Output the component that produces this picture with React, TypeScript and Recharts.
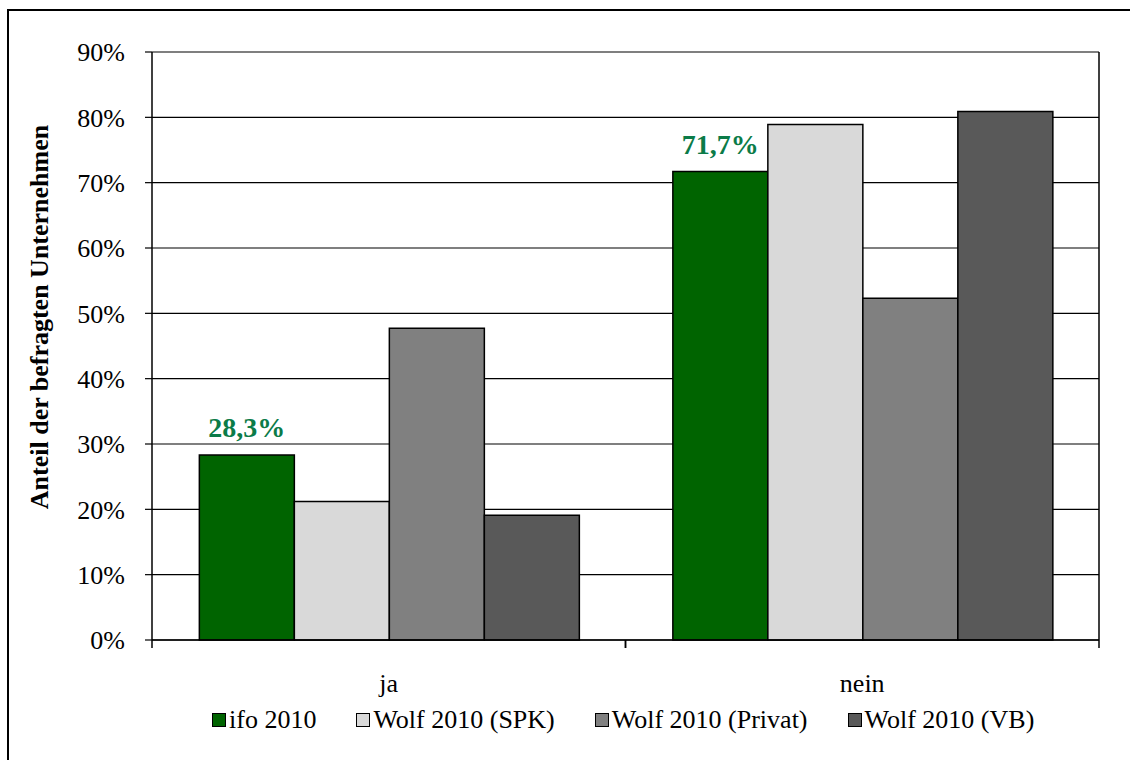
import React from 'react';
import { BarChart, Bar, XAxis, YAxis, CartesianGrid, Legend, LabelList } from 'recharts';

const CATEGORIES = ['ja', 'nein'];
const IFO = [28.3, 71.7];
const SPK = [21.2, 78.9];
const PRIVAT = [47.7, 52.3];
const VB = [19.1, 80.9];
const Y_TICKS = [0, 10, 20, 30, 40, 50, 60, 70, 80, 90];

const SERIES = [
  { key: 'ifo', name: 'ifo 2010', color: '#006400' },
  { key: 'spk', name: 'Wolf 2010 (SPK)', color: '#D9D9D9' },
  { key: 'privat', name: 'Wolf 2010 (Privat)', color: '#808080' },
  { key: 'vb', name: 'Wolf 2010 (VB)', color: '#595959' },
];

const data = CATEGORIES.map((c, i) => ({
  category: c,
  ifo: IFO[i],
  spk: SPK[i],
  privat: PRIVAT[i],
  vb: VB[i],
}));

const FONT = '"Liberation Serif", "Times New Roman", serif';
const LABEL_GREEN = '#0B7B48';

// category tick: label plus tick marks at the category boundaries
const CategoryTick = (props: any) => {
  const { x, y, payload } = props;
  const half = payload?.offset ?? 0;
  return (
    <g>
      {half > 0 && (
        <>
          <line x1={x - half} x2={x - half} y1={y} y2={y + 8} stroke="#000" strokeWidth={1.5} />
          <line x1={x + half} x2={x + half} y1={y} y2={y + 8} stroke="#000" strokeWidth={1.5} />
        </>
      )}
      <text x={x} y={y + 52} textAnchor="middle" fontFamily={FONT} fontSize={26} fill="#000">
        {payload.value}
      </text>
    </g>
  );
};

const YTitle = (props: any) => {
  const vb = props.viewBox || { x: 0, y: 0, width: 0, height: 0 };
  const cx = vb.x + 48;
  const cy = vb.y + vb.height / 2 - 29;
  return (
    <text
      x={cx}
      y={cy}
      transform={`rotate(-90, ${cx}, ${cy})`}
      textAnchor="middle"
      fontFamily={FONT}
      fontWeight="bold"
      fontSize={26}
      fill="#000"
    >
      Anteil der befragten Unternehmen
    </text>
  );
};

const LegendContent = () => (
  <div style={{ display: 'flex', alignItems: 'center', height: 28, fontFamily: FONT, fontSize: 26, color: '#000' }}>
    {SERIES.map((s, i) => (
      <div key={s.key} style={{ display: 'flex', alignItems: 'center', marginRight: i < SERIES.length - 1 ? 40 : 0 }}>
        <span
          style={{
            display: 'inline-block',
            width: 12,
            height: 12,
            background: s.color,
            border: '1.5px solid #000',
            marginRight: 3,
          }}
        />
        <span style={{ whiteSpace: 'nowrap', lineHeight: '28px' }}>{s.name}</span>
      </div>
    ))}
  </div>
);

const App: React.FC = () => {
  return (
    <div style={{ position: 'absolute', left: 0, top: 0, width: 1130, height: 760, overflow: 'hidden', background: '#fff' }}>
      <div
        style={{
          position: 'absolute',
          left: 7,
          top: 9,
          width: 1140,
          height: 780,
          border: '2px solid #000',
          boxSizing: 'border-box',
        }}
      />
      <div style={{ position: 'absolute', left: 0, top: 0 }}>
        <BarChart
          width={1130}
          height={760}
          data={data}
          margin={{ top: 52, right: 0, bottom: 60, left: 0 }}
          barCategoryGap="10%"
          barGap={0}
        >
          <CartesianGrid horizontal vertical={false} stroke="#000" strokeWidth={1.2} />
          <XAxis
            dataKey="category"
            height={60}
            axisLine={{ stroke: '#000', strokeWidth: 1.5 }}
            tickLine={false}
            tickSize={0}
            tickMargin={0}
            interval={0}
            tick={<CategoryTick />}
          />
          <YAxis
            width={152}
            domain={[0, 90]}
            ticks={Y_TICKS}
            interval={0}
            tickFormatter={(v: number) => `${v}%`}
            axisLine={{ stroke: '#000', strokeWidth: 1.5 }}
            tickLine={{ stroke: '#000', strokeWidth: 1.2 }}
            tickSize={7}
            tickMargin={20}
            tick={{ fontFamily: FONT, fontSize: 26, fill: '#000' }}
            label={{ content: <YTitle /> }}
          />
          <YAxis
            yAxisId="right"
            orientation="right"
            width={31}
            domain={[0, 90]}
            tick={false}
            tickLine={false}
            axisLine={{ stroke: '#000', strokeWidth: 1.5 }}
          />
          <Legend
            layout="horizontal"
            verticalAlign="middle"
            align="center"
            wrapperStyle={{ top: 706, left: 212, width: 900 }}
            content={<LegendContent />}
          />
          {SERIES.map((s) => (
            <Bar
              key={s.key}
              dataKey={s.key}
              name={s.name}
              fill={s.color}
              stroke="#000"
              strokeWidth={1.5}
              isAnimationActive={false}
            >
              {s.key === 'ifo' && (
                <LabelList
                  dataKey="ifo"
                  position="top"
                  offset={18}
                  formatter={(v: any) => `${Number(v).toFixed(1).replace('.', ',')}%`}
                  fill={LABEL_GREEN}
                  fontFamily={FONT}
                  fontWeight="bold"
                  fontSize={28}
                />
              )}
            </Bar>
          ))}
        </BarChart>
      </div>
    </div>
  );
};

export default App;
